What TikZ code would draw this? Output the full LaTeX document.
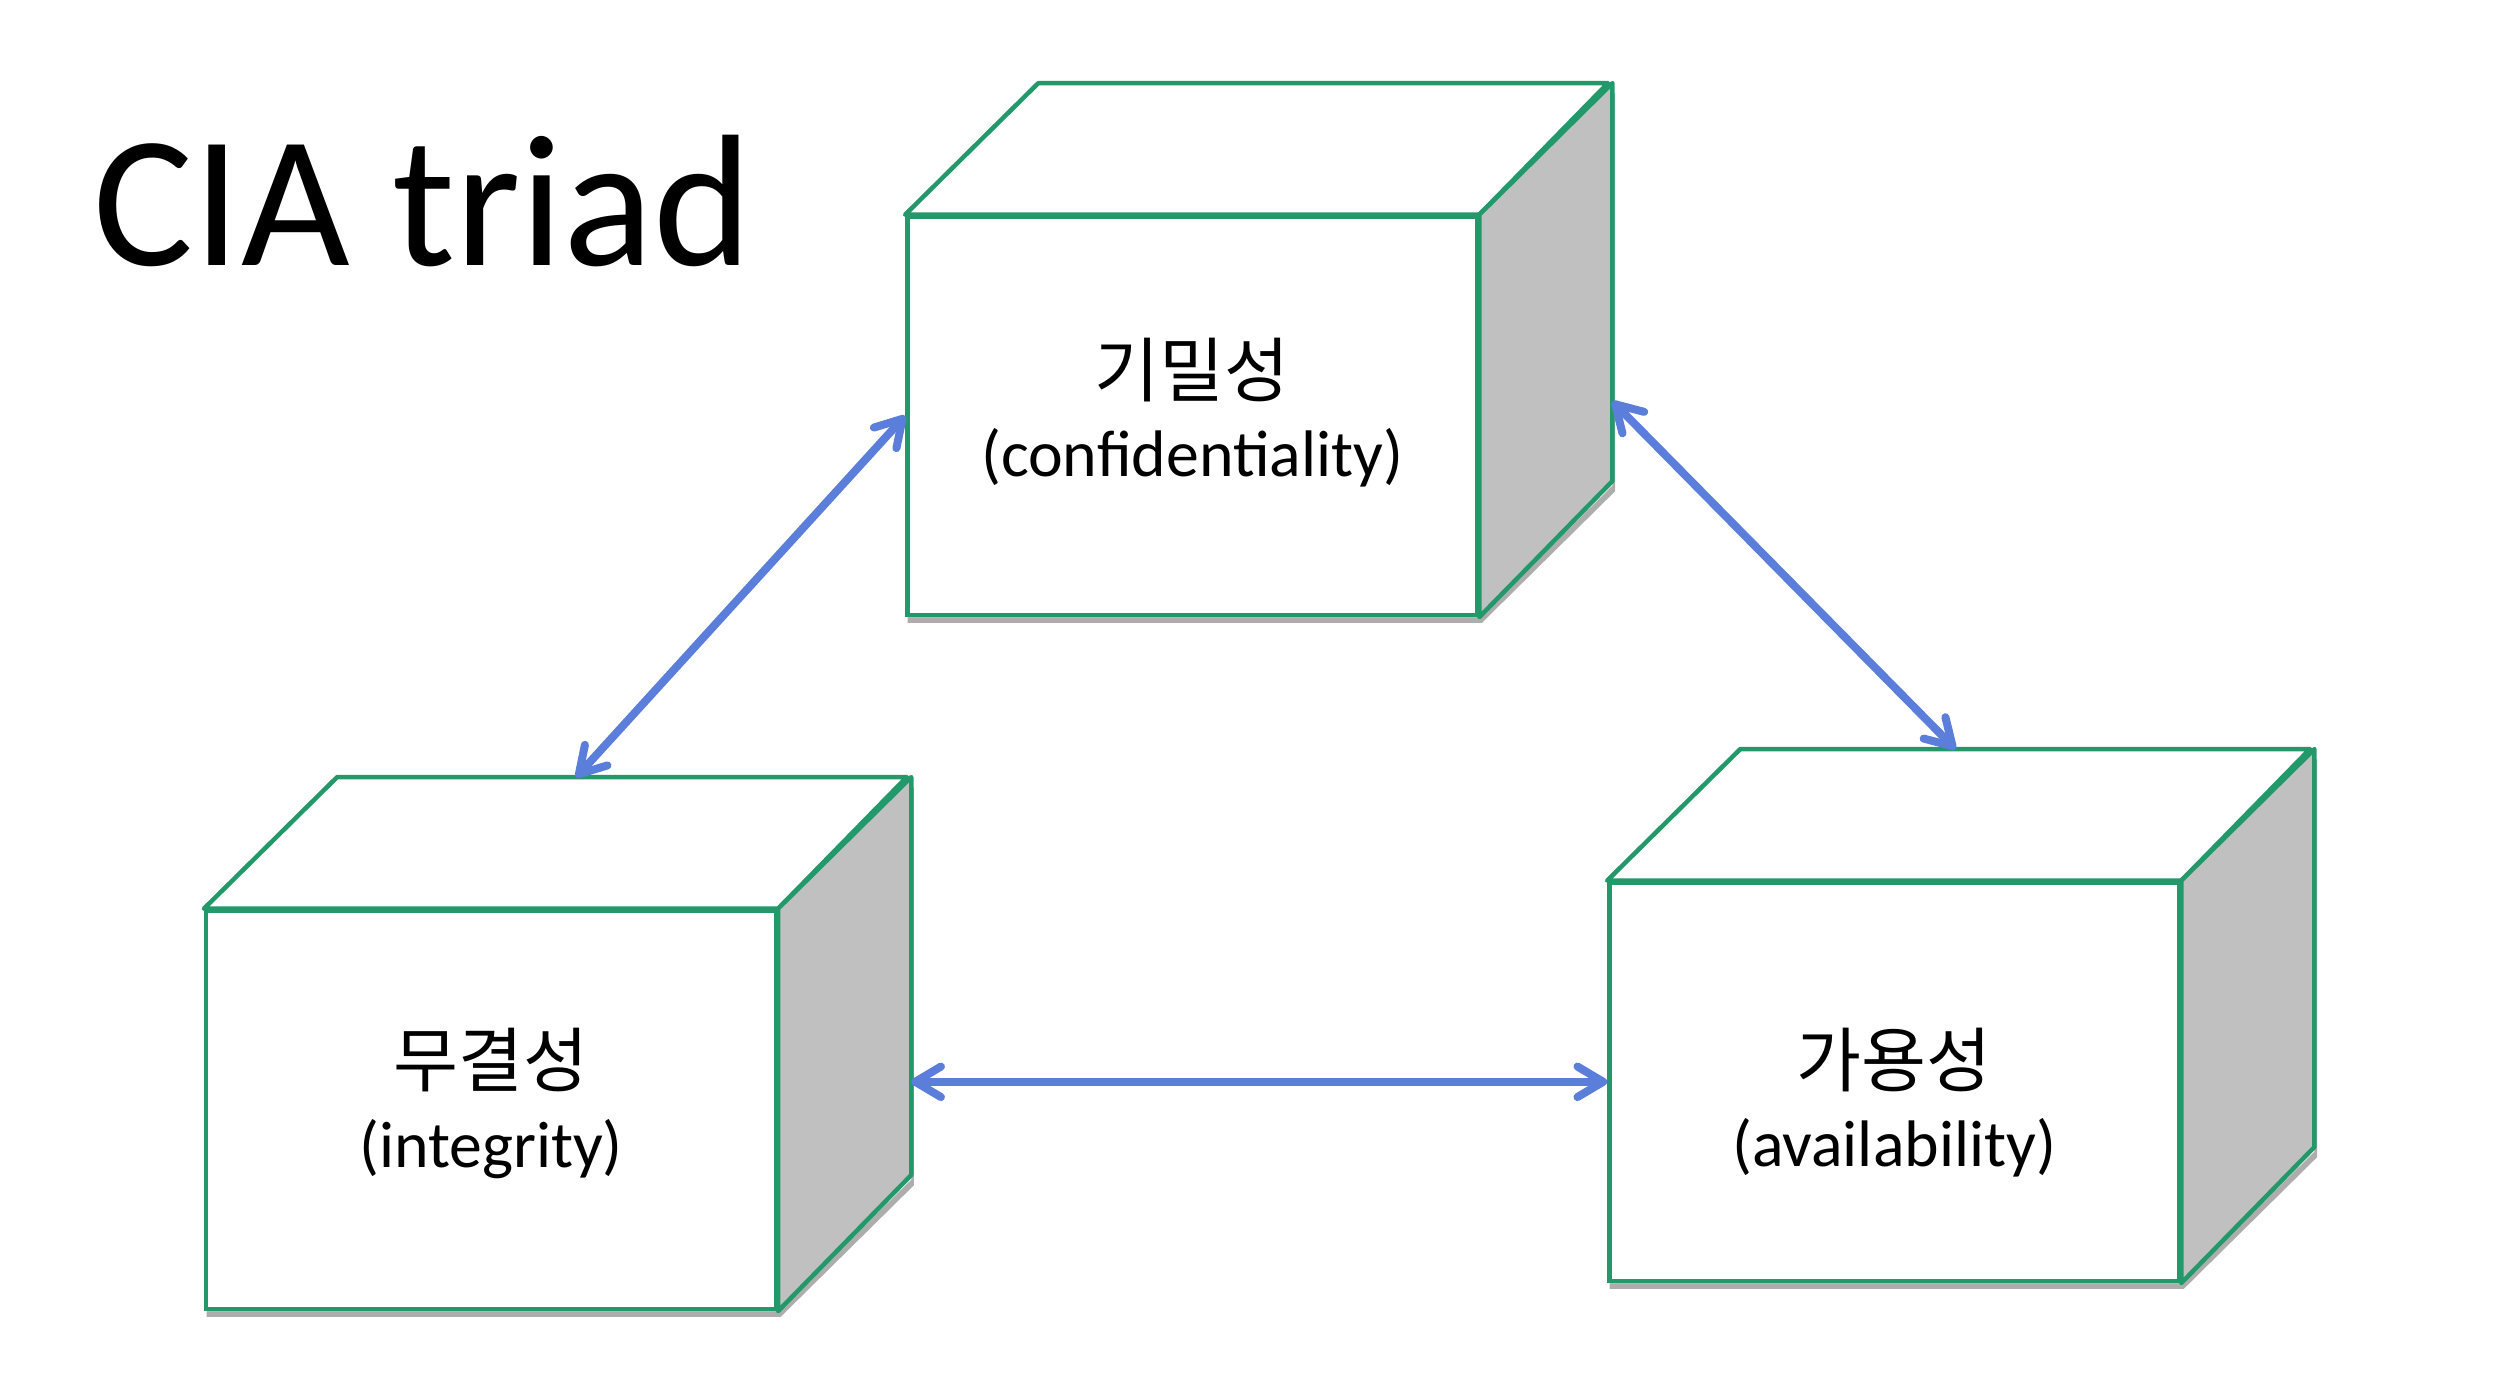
\documentclass[tikz,border=0pt]{standalone}
\usepackage{fontspec}
\setmainfont{Carlito}
\newfontfamily\kor{Noto Sans CJK KR}
\usetikzlibrary{arrows.meta,shadows,backgrounds}
\definecolor{ciagreen}{RGB}{35,153,107}
\definecolor{ciagray}{RGB}{192,192,192}
\definecolor{ciablue}{RGB}{91,126,218}
\tikzset{
  front/.style={draw=ciagreen, line width=1.4pt, fill=white, minimum width=177.5pt, minimum height=124pt, inner sep=0pt},
  facetext/.style={align=center, inner sep=0pt, font=\fontsize{20.5}{25}\selectfont},
  topface/.style={draw=ciagreen, line width=1.4pt, line join=round, fill=white},
  sideface/.style={draw=ciagreen, line width=1.4pt, line join=round, fill=ciagray},
  cubeshadow/.style={fill=white, drop shadow={shadow xshift=0.8pt, shadow yshift=-1.8pt, opacity=0.4, fill=black!80}},
  link/.style={draw=ciablue, line width=2.5pt,
    {Straight Barb[round,length=8pt,width=9.5pt]}-{Straight Barb[round,length=8pt,width=9.5pt]}}
}
\begin{document}
\begin{tikzpicture}[x=0.5pt, y=0.5pt]
\useasboundingbox (0,0) rectangle (1568,866.2);
% title
\node[anchor=base west, inner sep=0pt, font=\fontsize{58.5}{70}\selectfont] (title) at (58,701) {CIA triad};
% front faces
\node[front] (conf) at (743,607) {};
\node[front] (integ) at (306,174.5) {};
\node[front] (avail) at (1180.5,192) {};
\node[facetext] (conf-text) at ([yshift=1pt]conf.center) {{\kor\fontsize{22}{26}\selectfont 기밀성}\\(confidentiality)};
\node[facetext] (integ-text) at ([yshift=2pt]integ.center) {{\kor\fontsize{22}{26}\selectfont 무결성}\\(integrity)};
\node[facetext] (avail-text) at ([yshift=-6.5pt]avail.center) {{\kor\fontsize{22}{26}\selectfont 가용성}\\(availability)};
% shadows
\begin{scope}[on background layer]
\path[cubeshadow] (conf.south west) -- (conf.south east) -- ++(83,82) -- ++(0,248) -- ++(-355,0) -- (conf.north west) -- cycle;
\path[cubeshadow] (integ.south west) -- (integ.south east) -- ++(83,82) -- ++(0,248) -- ++(-355,0) -- (integ.north west) -- cycle;
\path[cubeshadow] (avail.south west) -- (avail.south east) -- ++(83,82) -- ++(0,248) -- ++(-355,0) -- (avail.north west) -- cycle;
\end{scope}
% top and side faces
\draw[topface] (conf.north west) -- ++(83,82) -- ++(355,0) -- (conf.north east) -- cycle;
\draw[sideface] (conf.north east) -- ++(83,82) -- ++(0,-248) -- (conf.south east) -- cycle;
\draw[topface] (integ.north west) -- ++(83,82) -- ++(355,0) -- (integ.north east) -- cycle;
\draw[sideface] (integ.north east) -- ++(83,82) -- ++(0,-248) -- (integ.south east) -- cycle;
\draw[topface] (avail.north west) -- ++(83,82) -- ++(355,0) -- (avail.north east) -- cycle;
\draw[sideface] (avail.north east) -- ++(83,82) -- ++(0,-248) -- (avail.south east) -- cycle;
% arrows
\coordinate (conf-side) at ([shift={(83,9)}]conf.east);
\coordinate (integ-top) at ([shift={(232,82)}]integ.north west);
\coordinate (integ-side) at ([shift={(83,0)}]integ.east);
\coordinate (avail-top) at ([shift={(217,82)}]avail.north west);
\draw[link] (integ-top) -- (conf.west);
\draw[link] (conf-side) -- (avail-top);
\draw[link] (integ-side |- avail.west) -- (avail.west);
\end{tikzpicture}
\end{document}
